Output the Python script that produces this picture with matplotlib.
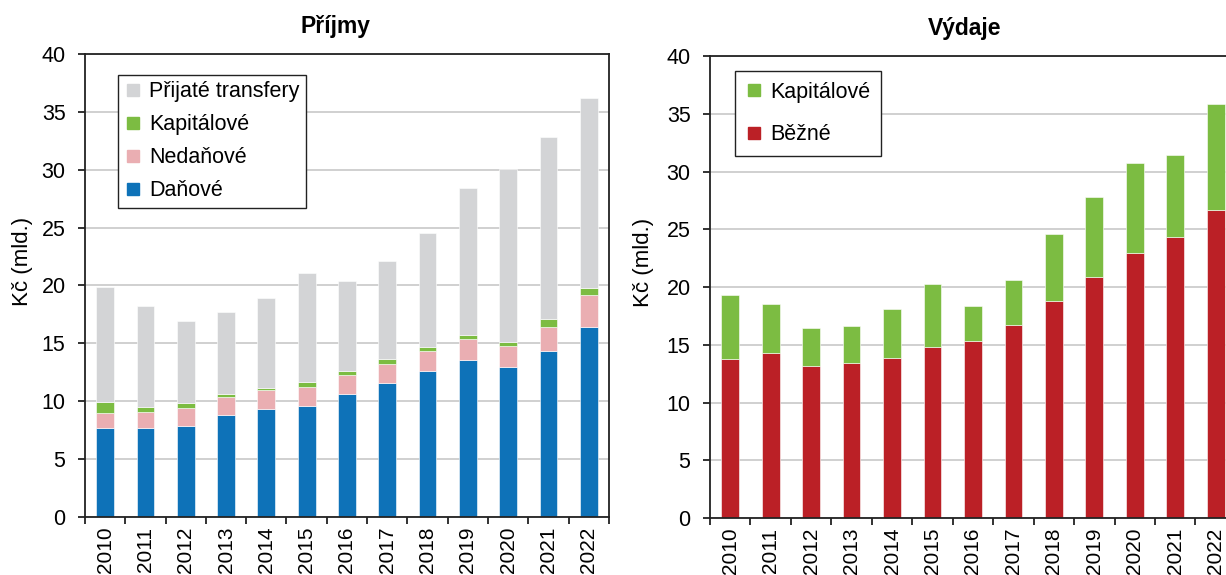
import numpy as np
import matplotlib.pyplot as plt
from matplotlib.lines import Line2D

plt.rcParams['font.family'] = ['Liberation Sans', 'DejaVu Sans']
plt.rcParams['font.size'] = 15.5

# data (mld. Kč)
years = ['2010', '2011', '2012', '2013', '2014', '2015', '2016',
         '2017', '2018', '2019', '2020', '2021', '2022']

danove = [7.72, 7.72, 7.87, 8.82, 9.31, 9.60, 10.60, 11.56, 12.62, 13.54, 12.94, 14.32, 16.40]
nedanove = [1.30, 1.39, 1.58, 1.58, 1.64, 1.67, 1.70, 1.70, 1.76, 1.82, 1.87, 2.08, 2.82]
kapitalove_prijmy = [0.92, 0.43, 0.41, 0.26, 0.23, 0.37, 0.32, 0.43, 0.29, 0.35, 0.35, 0.69, 0.55]
transfery = [9.96, 8.66, 7.11, 7.01, 7.72, 9.46, 7.81, 8.45, 9.90, 12.73, 14.93, 15.74, 16.47]

bezne = [13.78, 14.29, 13.17, 13.43, 13.86, 14.78, 15.30, 16.74, 18.79, 20.84, 22.98, 24.36, 26.68]
kapitalove_vydaje = [5.50, 4.21, 3.31, 3.23, 4.21, 5.45, 3.06, 3.90, 5.81, 6.93, 7.77, 7.11, 9.16]

c_blue = '#0e72b8'
c_pink = '#eaaeb2'
c_green = '#7cbc42'
c_grey = '#d3d4d6'
c_red = '#bb2026'

fig = plt.figure(figsize=(12.26, 5.75), dpi=100)
ax1 = fig.add_axes([0.0693, 0.1009, 0.4274, 0.8052])
ax2 = fig.add_axes([0.5791, 0.0991, 0.4290, 0.8035])

x = np.arange(len(years))
w = 0.44


def style(ax, lx, ly):
    ax.set_xlim(-0.5, len(years) - 0.5)
    ax.set_ylim(0, 40)
    ax.set_yticks(np.arange(0, 41, 5))
    ax.set_xticks(x)
    ax.set_xticklabels(years, rotation=90, va='top', fontsize=15)
    ax.set_xticks(np.arange(-0.5, len(years), 1), minor=True)
    ax.tick_params(axis='x', which='major', length=0, pad=7)
    ax.tick_params(axis='x', which='minor', length=5, width=1.3, direction='out', color='#222222')
    ax.tick_params(axis='y', length=5, width=1.3, pad=9, color='#222222')
    ax.grid(axis='y', color='#c8c8c8', linewidth=1.2)
    ax.set_axisbelow(True)
    for s in ax.spines.values():
        s.set_color('#222222')
        s.set_linewidth(1.3)
    ax.set_ylabel('Kč (mld.)', fontsize=16)
    ax.yaxis.set_label_coords(lx, ly)


# Příjmy
b = np.zeros(len(years))
for vals, col in [(danove, c_blue), (nedanove, c_pink),
                  (kapitalove_prijmy, c_green), (transfery, c_grey)]:
    ax1.bar(x, vals, w, bottom=b, color=col, edgecolor='white', linewidth=0.4)
    b = b + np.array(vals)
style(ax1, -0.099, 0.551)
ax1.text(0.479, 1.045, 'Příjmy', transform=ax1.transAxes, ha='center', va='baseline',
         fontweight='bold', fontsize=16.5)

h1 = [Line2D([], [], marker='s', linestyle='none', markersize=8, color=c)
      for c in [c_grey, c_green, c_pink, c_blue]]
leg1 = ax1.legend(h1, ['Přijaté transfery', 'Kapitálové', 'Nedaňové', 'Daňové'],
                  loc='upper left', bbox_to_anchor=(0.063, 0.955), borderaxespad=0,
                  fancybox=False, edgecolor='#222222', framealpha=1,
                  handlelength=0.8, handletextpad=0.35, labelspacing=0.56,
                  borderpad=0.3)
leg1.get_frame().set_linewidth(1.0)

# Výdaje
ax2.bar(x, bezne, w, color=c_red, edgecolor='white', linewidth=0.4)
ax2.bar(x, kapitalove_vydaje, w, bottom=bezne, color=c_green, edgecolor='white', linewidth=0.4)
style(ax2, -0.106, 0.554)
ax2.text(0.485, 1.045, 'Výdaje', transform=ax2.transAxes, ha='center', va='baseline',
         fontweight='bold', fontsize=16.5)

h2 = [Line2D([], [], marker='s', linestyle='none', markersize=8, color=c)
      for c in [c_green, c_red]]
leg2 = ax2.legend(h2, ['Kapitálové', 'Běžné'],
                  loc='upper left', bbox_to_anchor=(0.0475, 0.967), borderaxespad=0,
                  fancybox=False, edgecolor='#222222', framealpha=1,
                  handlelength=0.8, handletextpad=0.35, labelspacing=0.98,
                  borderpad=0.5)
leg2.get_frame().set_linewidth(1.0)

fig.savefig('out.png', dpi=100)
